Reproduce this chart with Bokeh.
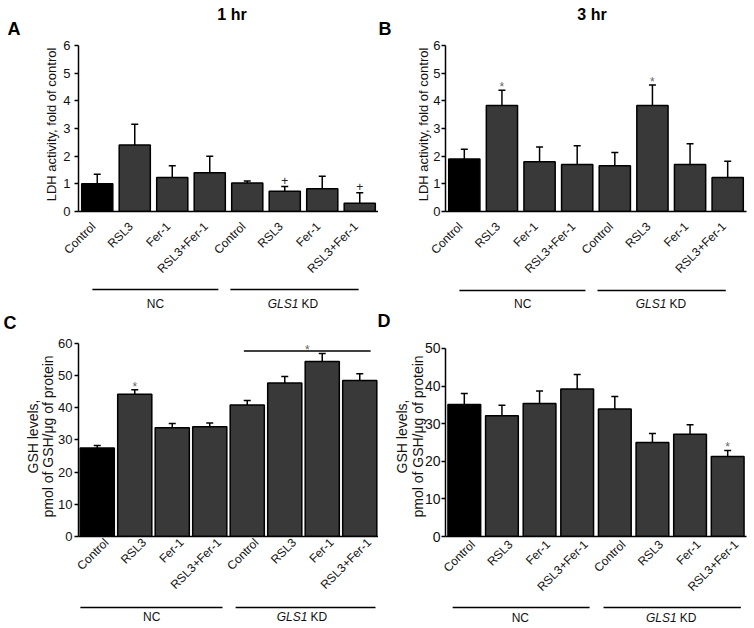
import numpy as np
from bokeh.plotting import figure
from bokeh.models import (Range1d, FixedTicker, Whisker, ColumnDataSource, TeeHead, Div,
                          LinearAxis)
from bokeh.layouts import column, row
from bokeh.embed import file_html
from bokeh.resources import INLINE
from bokeh.core.properties import value

# ---------------- data ----------------
categories = ["Control", "RSL3", "Fer-1", "RSL3+Fer-1", "Control", "RSL3", "Fer-1", "RSL3+Fer-1"]
group_nc = "NC"
group_kd = ["GLS1", "KD"]  # "GLS1" is italic
panel_letters = ["A", "B", "C", "D"]
panel_titles = ["1 hr", "3 hr"]
ldh_label = ["LDH activity, fold of control"]
gsh_label = ["GSH levels,", "pmol of GSH/\u03bcg of protein"]

ldh_1hr = [1.00, 2.40, 1.23, 1.40, 1.03, 0.73, 0.82, 0.30]
ldh_1hr_err = [0.35, 0.75, 0.42, 0.60, 0.07, 0.17, 0.45, 0.38]
ldh_1hr_marks = ["", "", "", "", "", "+", "", "+"]

ldh_3hr = [1.90, 3.83, 1.80, 1.70, 1.65, 3.83, 1.70, 1.23]
ldh_3hr_err = [0.35, 0.55, 0.53, 0.68, 0.48, 0.74, 0.75, 0.59]
ldh_3hr_marks = ["", "*", "", "", "", "*", "", ""]

gsh_c = [27.5, 44.2, 33.8, 34.1, 40.9, 47.7, 54.4, 48.5]
gsh_c_err = [0.8, 1.4, 1.3, 1.2, 1.4, 2.0, 2.5, 2.1]
gsh_c_marks = ["", "*", "", "", "", "", "", ""]
gsh_c_bracket = [4.41, 7.79, 57.7]  # KD-group significance line: x from, x to, y

gsh_d = [35.1, 32.1, 35.4, 39.2, 33.9, 25.0, 27.2, 21.25]
gsh_d_err = [2.9, 2.8, 3.3, 3.9, 3.3, 2.4, 2.5, 1.65]
gsh_d_marks = ["", "", "", "", "", "", "", "*"]

FONT = "Liberation Sans"
BAR_COLORS = ["#000000"] + ["#393939"] * 7
TXT = "#111111"


def header(width, height, items):
    spans = ""
    for txt, x, y, size in items:
        spans += ('<span style="position:absolute;left:%dpx;top:%dpx;'
                  'transform:translate(-50%%,-50%%);font-family:\'Liberation Sans\';'
                  'font-weight:bold;font-size:%dpx;line-height:1;color:#000;'
                  'white-space:nowrap">%s</span>' % (x, y, size, txt))
    html = ('<div style="position:relative;width:%dpx;height:%dpx;overflow:visible">%s</div>'
            % (width, height, spans))
    return Div(text=html, width=width, height=height, margin=(0, 0, 0, 0))


def blank(width, height, x_range, y_range, bl=0, br=0):
    f = figure(width=width, height=height, x_range=x_range, y_range=y_range,
               output_backend="svg", toolbar_location=None,
               x_axis_location=None, y_axis_location=None,
               min_border_left=bl, min_border_right=br, min_border_top=0, min_border_bottom=0)
    f.outline_line_color = None
    f.xgrid.grid_line_color = None
    f.ygrid.grid_line_color = None
    return f


def add_label_axis(p, text, fs, standoff, center):
    ax = LinearAxis(ticker=FixedTicker(ticks=[], minor_ticks=[]), axis_label=text)
    ax.bounds = (center - 0.5, center + 0.5)
    ax.axis_line_color = None
    ax.major_tick_line_color = None
    ax.minor_tick_line_color = None
    ax.major_tick_out = 0
    ax.minor_tick_out = 0
    ax.major_tick_in = 0
    ax.minor_tick_in = 0
    ax.major_label_standoff = 0
    ax.axis_label_text_font = FONT
    ax.axis_label_text_font_style = "normal"
    ax.axis_label_text_font_size = fs
    ax.axis_label_text_color = TXT
    ax.axis_label_standoff = standoff
    p.add_layout(ax, "left")


def make_panel(vals, errs, marks, ymax, yticks, ylabels, width, bl, br,
               frame_h, bottom_b, foot_h, bar_w,
               tick_fs, tick_standoff, label_fs, label_standoffs, label_centers,
               xtick_fs, xtick_shift, xtick_standoff,
               nc_line, kd_line, line_y, nc_lab_x, kd_lab_x, lab_y):
    xs = np.arange(len(vals)) + 0.5
    tops = [v + e for v, e in zip(vals, errs)]
    mcol = ["#222222" if m == "+" else "#666666" for m in marks]
    moff = [-6 if m == "+" else -3 for m in marks]

    p = figure(width=width, height=frame_h + bottom_b, x_range=Range1d(0, len(vals)),
               y_range=Range1d(0, ymax), output_backend="svg", toolbar_location=None,
               min_border_left=bl, min_border_right=br, min_border_top=0,
               min_border_bottom=bottom_b)
    p.outline_line_color = None
    p.xgrid.grid_line_color = None
    p.ygrid.grid_line_color = None

    src = ColumnDataSource(dict(x=xs, v=vals, top=tops, c=BAR_COLORS, m=marks,
                                mc=mcol, mo=moff))
    p.vbar(x="x", top="v", width=bar_w, bottom=0, fill_color="c", line_color="black",
           line_width=1.5, source=src)
    p.add_layout(Whisker(base="x", lower="v", upper="top", source=src, line_color="black",
                         line_width=1.5, lower_head=None,
                         upper_head=TeeHead(size=7, line_color="black", line_width=1.5)))
    p.text(x="x", y="top", text="m", source=src, text_align="center",
           text_baseline="alphabetic", y_offset="mo", text_font=value(FONT),
           text_font_size="12px", text_color="mc")

    ya = p.yaxis[0]
    ya.ticker = FixedTicker(ticks=yticks, minor_ticks=[])
    ya.bounds = (0, yticks[-1])
    ya.major_label_text_font = FONT
    ya.major_label_text_font_size = tick_fs
    ya.major_label_text_color = TXT
    ya.major_label_standoff = tick_standoff
    ya.major_tick_in = 0
    ya.major_tick_out = 4
    ya.major_tick_line_width = 1.5
    ya.axis_line_width = 1.5
    # axis title, one line per stacked label axis (innermost line first)
    for txt, so, cy in zip(reversed(ylabels), label_standoffs, label_centers):
        add_label_axis(p, txt, label_fs, so, cy)

    xa = p.xaxis[0]
    ticks = [float(x + xtick_shift) for x in xs]
    xa.ticker = FixedTicker(ticks=ticks, minor_ticks=[])
    xa.major_label_overrides = {t: c for t, c in zip(ticks, categories)}
    xa.major_label_orientation = np.pi / 4
    xa.major_label_text_font = FONT
    xa.major_label_text_font_size = xtick_fs
    xa.major_label_text_color = TXT
    xa.major_label_standoff = xtick_standoff
    xa.major_tick_line_color = None
    xa.major_tick_in = 0
    xa.major_tick_out = 0
    xa.axis_line_width = 1.5

    # footer: group lines and group labels (shares the bar x range)
    foot = blank(width, foot_h, p.x_range, Range1d(0, foot_h), bl, br)
    foot.segment(x0=[nc_line[0], kd_line[0]], y0=[line_y, line_y],
                 x1=[nc_line[1], kd_line[1]], y1=[line_y, line_y],
                 line_color="black", line_width=1.5)
    foot.text(x=[nc_lab_x], y=[lab_y], text=[group_nc], text_font=value(FONT),
              text_font_size="12px", text_align="center", text_baseline="middle",
              text_color=TXT)
    foot.text(x=[kd_lab_x], y=[lab_y], x_offset=5, text=[group_kd[0]], text_font=value(FONT),
              text_font_style="italic", text_font_size="12px", text_align="right",
              text_baseline="middle", text_color=TXT)
    foot.text(x=[kd_lab_x], y=[lab_y], x_offset=8, text=[group_kd[1]], text_font=value(FONT),
              text_font_size="12px", text_align="left", text_baseline="middle",
              text_color=TXT)
    return column(p, foot, spacing=0), p


W_L, W_R = 378, 376
BL_L, BR_L = 78, 0
BL_R, BR_R = 67, 8

top_head = header(W_L + W_R, 37, [(panel_letters[0], 14, 29, 18), (panel_titles[0], 232, 15, 16),
                                  (panel_letters[1], 385, 29, 18), (panel_titles[1], 592, 15, 16)])

col_a, pa = make_panel(ldh_1hr, ldh_1hr_err, ldh_1hr_marks, 6.29, [0, 1, 2, 3, 4, 5, 6],
                       ldh_label, W_L, BL_L, BR_L,
                       174, 75, 24, 0.83,
                       "13px", 4, "13px", [2], [3.34],
                       "12px", -0.1, 13,
                       (0.37, 3.73), (4.05, 7.47), 21, 2.05, 5.73, 7)

col_b, pb = make_panel(ldh_3hr, ldh_3hr_err, ldh_3hr_marks, 6.29, [0, 1, 2, 3, 4, 5, 6],
                       ldh_label, W_R, BL_R, BR_R,
                       174, 75, 24, 0.83,
                       "13px", 1, "13px", [0], [3.25],
                       "12px", -0.1, 13,
                       (0.37, 3.72), (4.04, 7.45), 20, 2.05, 5.74, 7)

mid_head = header(W_L + W_R, 26, [(panel_letters[2], 10, 13, 18), (panel_letters[3], 384, 11, 18)])

col_c, pc = make_panel(gsh_c, gsh_c_err, gsh_c_marks, 62.17, [0, 10, 20, 30, 40, 50, 60],
                       gsh_label, W_L, BL_L, BR_L,
                       200, 68, 24, 0.91,
                       "13px", 2, "14px", [0, -4], [31.7, 26.1],
                       "12px", 0.25, 4,
                       (0.05, 3.84), (4.19, 7.92), 21, 1.95, 5.97, 12)
b0, b1, by = gsh_c_bracket
pc.segment(x0=[b0], y0=[by], x1=[b1], y1=[by], line_color="black", line_width=1.5)
pc.text(x=[(b0 + b1) / 2], y=[by], y_offset=-1, text=["*"], text_font=value(FONT),
        text_font_size="12px", text_align="center", text_baseline="alphabetic",
        text_color="#666666")

col_d, pd_ = make_panel(gsh_d, gsh_d_err, gsh_d_marks, 53.19, [0, 10, 20, 30, 40, 50],
                        gsh_label, W_R, BL_R, BR_R,
                        200, 68, 24, 0.87,
                        "14px", 1, "14px", [-4, -3], [28.5, 26.9],
                        "12px", 0.23, 6,
                        (0.19, 3.83), (4.20, 7.85), 21, 1.99, 6.01, 11)

layout = column(top_head, row(col_a, col_b, spacing=0), mid_head,
                row(col_c, col_d, spacing=0), spacing=0)
open("out.html", "w").write(file_html(layout, INLINE))
